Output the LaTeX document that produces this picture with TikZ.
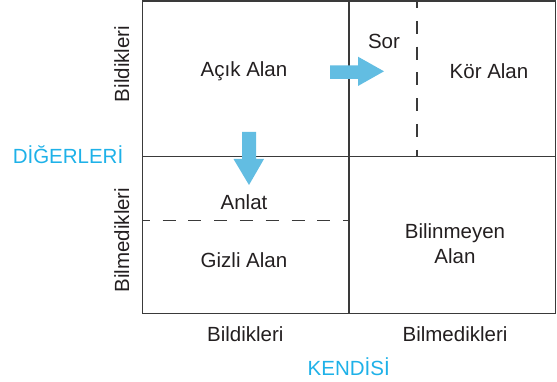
\documentclass[tikz,border=0pt]{standalone}
\usepackage{fontspec}
\setmainfont{Liberation Sans}
\definecolor{arrowblue}{HTML}{62BDE2}
\definecolor{labelblue}{HTML}{1EB1E8}
\definecolor{linegray}{HTML}{3A3A3A}
\definecolor{textgray}{HTML}{231F20}
\begin{document}
\begin{tikzpicture}[x=1pt,y=-1pt,
  grid/.style={draw=linegray,line width=1.4pt},
  dashline/.style={draw=linegray,line width=1.3pt,dash pattern=on 13pt off 12.8pt,dash phase=6pt},
  lbl/.style={font=\fontsize{20.5}{24}\selectfont,text=textgray,inner sep=0pt,align=center},
  axis/.style={font=\fontsize{20.5}{24}\selectfont,text=labelblue,inner sep=0pt},
  bigarrow/.style={fill=arrowblue,draw=none}]
\useasboundingbox (0,0) rectangle (557,382);
% grid
\coordinate (tl) at (142.7,1);
\coordinate (br) at (555.3,313.3);
\coordinate (mt) at (349,1);
\coordinate (mb) at (349,313.3);
\coordinate (ml) at (142.7,156.3);
\coordinate (mr) at (555.3,156.3);
\coordinate (dvt) at (417,1);
\coordinate (dvb) at (417,156.3);
\coordinate (dhl) at (142.7,220.7);
\coordinate (dhr) at (349,220.7);
\draw[dashline] (dvt) -- (dvb);
\draw[dashline] (dhl) -- (dhr);
\draw[grid] (tl) rectangle (br);
\draw[grid] (mt) -- (mb);
\draw[grid] (ml) -- (mr);
% arrows
\fill[bigarrow] (330,65.3) -- (358,65.3) -- (358,56.7) -- (384,71.3) -- (358,86) -- (358,79) -- (330,79) -- cycle;
\fill[bigarrow] (242,132) -- (256,132) -- (256,159) -- (264,159) -- (249,185) -- (233.5,159) -- (242,159) -- cycle;
% cell texts
\node[lbl] (acik) at (244,71) {Açık Alan};
\node[lbl] (kor) at (489,71) {Kör Alan};
\node[lbl] (sor) at (384,41) {Sor};
\node[lbl] (anlat) at (244,202) {Anlat};
\node[lbl] (gizli) at (244,260) {Gizli Alan};
\node[lbl,font=\fontsize{20.5}{25.5}\selectfont] (bilinmeyen) at (455,243.5) {Bilinmeyen\\Alan};
% axis labels
\node[lbl,rotate=90] (lbild) at (121.7,64) {Bildikleri};
\node[lbl,rotate=90] (lbilm) at (121.7,240) {Bilmedikleri};
\node[axis] (dig) at (68,155) {DİĞERLERİ};
\node[lbl] (bbild) at (245.3,334) {Bildikleri};
\node[lbl] (bbilm) at (455,334) {Bilmedikleri};
\node[axis] (kend) at (348.7,366.7) {KENDİSİ};
\end{tikzpicture}
\end{document}
